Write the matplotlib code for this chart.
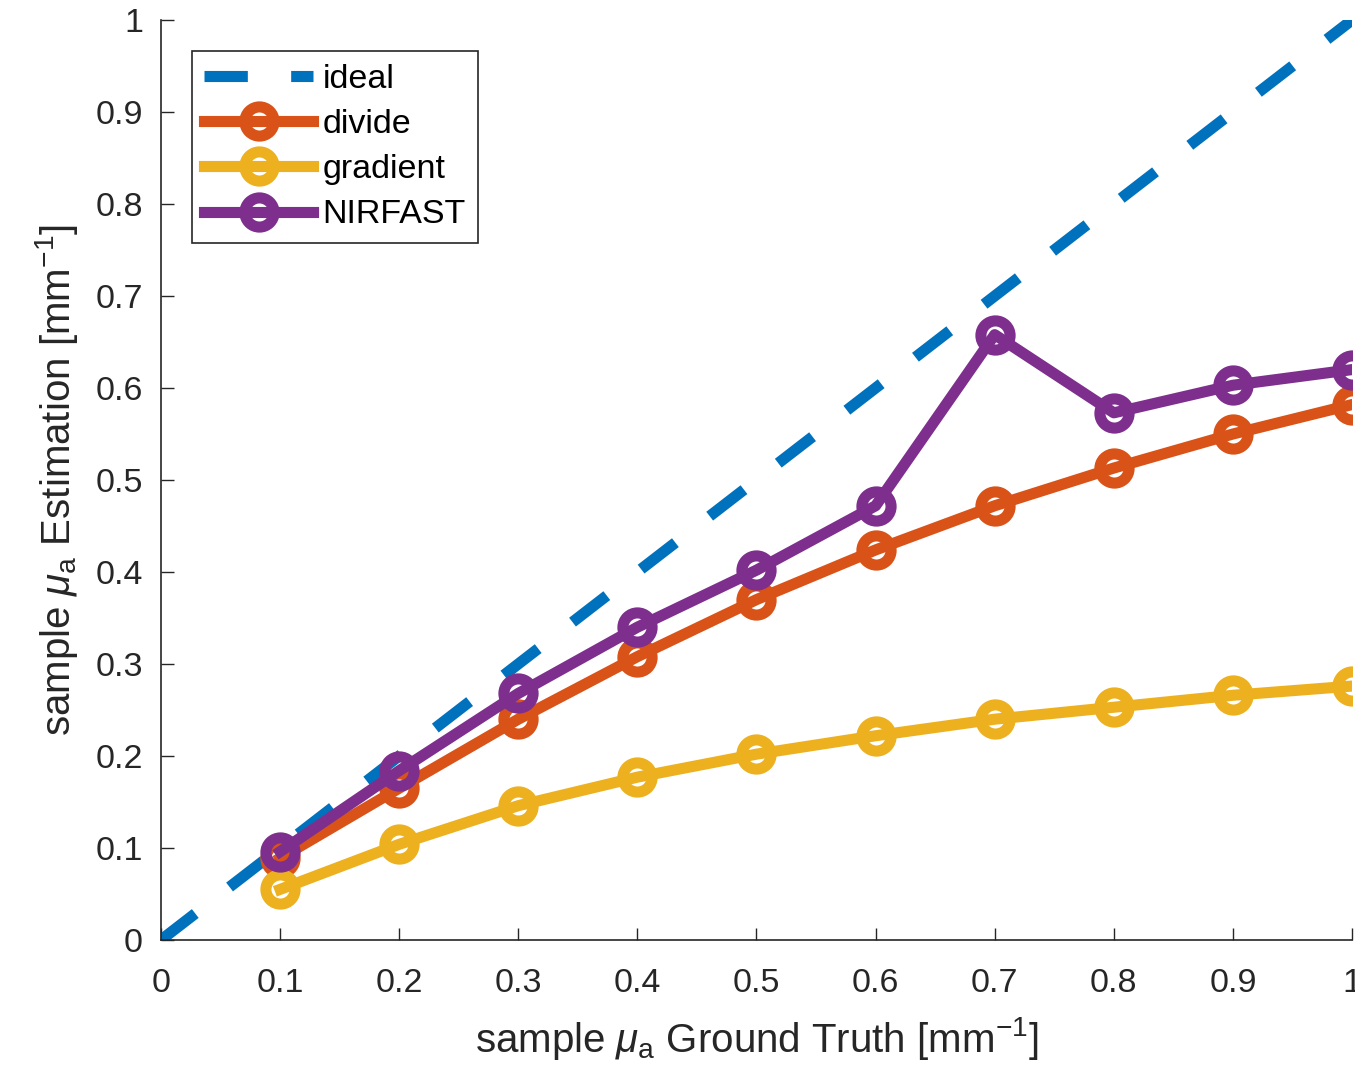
import numpy as np
import matplotlib
matplotlib.use('Agg')
import matplotlib.pyplot as plt

# data
truth = [0.1, 0.2, 0.3, 0.4, 0.5, 0.6, 0.7, 0.8, 0.9, 1.0]
divide = [0.089, 0.165, 0.240, 0.308, 0.370, 0.424, 0.472, 0.513, 0.550, 0.582]
gradient = [0.055, 0.104, 0.146, 0.177, 0.202, 0.222, 0.240, 0.253, 0.266, 0.276]
nirfast = [0.096, 0.184, 0.268, 0.340, 0.402, 0.472, 0.658, 0.573, 0.603, 0.620]
ideal = [0, 1]
ticks = [0, 0.1, 0.2, 0.3, 0.4, 0.5, 0.6, 0.7, 0.8, 0.9, 1]
tickLabels = ['0', '0.1', '0.2', '0.3', '0.4', '0.5', '0.6', '0.7', '0.8', '0.9', '1']

plt.rcParams['font.family'] = ['Liberation Sans', 'DejaVu Sans']
plt.rcParams['mathtext.fontset'] = 'custom'
plt.rcParams['mathtext.rm'] = 'Liberation Sans'
plt.rcParams['mathtext.it'] = 'Liberation Sans:italic'

axisColor = '#262626'
lw = 8
ms = 21

fig = plt.figure(figsize=(13.55, 10.76), dpi=100)
ax = fig.add_axes([0.1188, 0.1264, 0.8790, 0.8550])

ax.plot(ideal, ideal, color='#0072BD', lw=lw, dashes=(3.9, 3.9), label='ideal')
ax.plot(truth, divide, color='#D95319', lw=lw, marker='o', ms=ms, mew=lw,
        mfc='none', label='divide')
ax.plot(truth, gradient, color='#EDB120', lw=lw, marker='o', ms=ms, mew=lw,
        mfc='none', label='gradient')
ax.plot(truth, nirfast, color='#7E2F8E', lw=lw, marker='o', ms=ms, mew=lw,
        mfc='none', label='NIRFAST')

ax.set_xlim(0, 1)
ax.set_ylim(0, 1)
ax.set_xticks(ticks, labels=tickLabels)
ax.set_yticks(ticks, labels=tickLabels)
ax.tick_params(direction='in', length=9, width=1, colors=axisColor, labelsize=24.5)
ax.tick_params(axis='x', pad=20)
ax.tick_params(axis='y', pad=13)
for side in ['top', 'right']:
    ax.spines[side].set_visible(False)
for side in ['left', 'bottom']:
    ax.spines[side].set_color(axisColor)
    ax.spines[side].set_linewidth(1.2)

ax.set_xlabel(r'sample $\mu_{\rm a}$ Ground Truth [mm$^{-1}$]', fontsize=29, color=axisColor)
ax.set_ylabel(r'sample $\mu_{\rm a}$ Estimation [mm$^{-1}$]', fontsize=29, color=axisColor)
ax.xaxis.set_label_coords(0.5, -0.082)
ax.yaxis.set_label_coords(-0.068, 0.5)

leg = ax.legend(loc='upper left', bbox_to_anchor=(0.026, 0.966), fontsize=24.5,
                handlelength=3.2, handletextpad=0.28, labelspacing=0.42,
                borderpad=0.36, borderaxespad=0, fancybox=False, framealpha=1)
leg.get_frame().set_edgecolor(axisColor)
leg.get_frame().set_linewidth(1.2)

fig.savefig('out.png', dpi=100)
